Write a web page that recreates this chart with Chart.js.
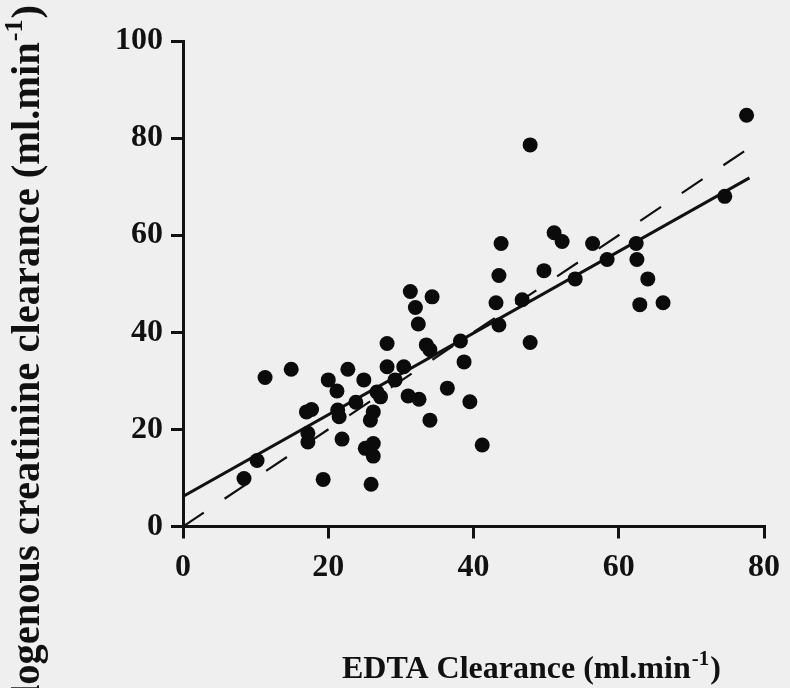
<!DOCTYPE html>
<html>
<head>
<meta charset="utf-8">
<script src="https://cdn.jsdelivr.net/npm/chart.js@4"></script>
<style>
  html, body { margin: 0; padding: 0; background: #efefef; }
  canvas { display: block; }
</style>
</head>
<body>
<canvas id="myChart" width="790" height="688"></canvas>
<script>
// EDTA clearance (x) vs endogenous creatinine clearance (y), ml/min
let edtaClearance = [8.4, 10.2, 11.3, 14.9, 17.0, 17.7, 17.2, 17.2, 19.3, 20.0, 21.2, 22.7, 21.3, 21.5, 21.9,
  23.8, 24.9, 26.2, 25.8, 25.1, 26.2, 26.2, 25.9, 26.7, 27.2, 28.1, 28.1, 29.2, 30.4, 31.0, 32.5, 31.3, 32.0,
  32.4, 34.3, 33.5, 34.0, 34.0, 36.4, 38.2, 38.7, 39.5, 41.2, 43.1, 43.5, 43.5, 43.8, 46.7, 47.8, 47.8, 49.7,
  51.1, 52.2, 54.0, 56.4, 58.4, 62.4, 62.5, 64.0, 62.9, 66.1, 74.6, 77.6];
let creatinineClearance = [9.9, 13.6, 30.7, 32.4, 23.6, 24.1, 19.2, 17.4, 9.7, 30.2, 27.9, 32.4, 24.0, 22.6, 18.0,
  25.6, 30.2, 23.6, 21.9, 16.1, 17.1, 14.5, 8.7, 27.7, 26.7, 37.7, 32.9, 30.2, 32.9, 26.9, 26.2, 48.4, 45.1,
  41.7, 47.3, 37.4, 36.4, 21.9, 28.5, 38.2, 33.9, 25.7, 16.8, 46.1, 41.5, 51.7, 58.3, 46.7, 37.9, 78.6, 52.7,
  60.5, 58.7, 51.0, 58.3, 55.0, 58.3, 55.0, 51.0, 45.7, 46.1, 68.0, 84.7];

// regression line and line of identity (end points)
let fitX = [0, 78];
let fitY = [6.2, 71.8];
let identityX = [0, 80];
let identityY = [0, 80];

let xTicks = [0, 20, 40, 60, 80];
let yTicks = [0, 20, 40, 60, 80, 100];

let xTitle = "EDTA Clearance (ml.min";
let yTitle = "Endogenous creatinine clearance (ml.min";
let sup = "-1";

const ink = "#111";
const serif = "'Liberation Serif', 'DejaVu Serif', serif";

function toPoints(xs, ys) {
  return xs.map((x, i) => ({ x: x, y: ys[i] }));
}

// axis titles with superscript, drawn by hand
const axisTitles = {
  id: "axisTitles",
  afterDraw(chart) {
    const c = chart.ctx;
    c.save();
    c.fillStyle = ink;
    c.textBaseline = "alphabetic";
    c.textAlign = "left";

    function run(mainSize, supSize, text) {
      c.font = "bold " + mainSize + "px " + serif;
      let w1 = c.measureText(text).width;
      c.font = "bold " + supSize + "px " + serif;
      let w2 = c.measureText(sup).width;
      c.font = "bold " + mainSize + "px " + serif;
      let w3 = c.measureText(")").width;
      return { w1, w2, w3, total: w1 + w2 + w3 + 2 };
    }

    function draw(mainSize, supSize, text, m) {
      c.font = "bold " + mainSize + "px " + serif;
      c.fillText(text, 0, 0);
      c.font = "bold " + supSize + "px " + serif;
      c.fillText(sup, m.w1 + 1, -mainSize * 0.42);
      c.font = "bold " + mainSize + "px " + serif;
      c.fillText(")", m.w1 + m.w2 + 2, 0);
    }

    // x title
    let mx = run(32, 21, xTitle);
    c.save();
    c.translate(342, 678);
    draw(32, 21, xTitle, mx);
    c.restore();

    // y title, rotated, ending near the top edge
    let my = run(40.5, 26, yTitle);
    c.save();
    c.translate(39, 5 + my.total);
    c.rotate(-Math.PI / 2);
    draw(40.5, 26, yTitle, my);
    c.restore();

    c.restore();
  }
};

const axisStyle = {
  border: { display: true, color: ink, width: 3 },
  grid: { drawOnChartArea: false, drawTicks: true, tickLength: 12, color: ink, lineWidth: 3 },
};

let ctx = document.getElementById("myChart");
let myChart = new Chart(ctx, {
  type: "scatter",
  data: {
    datasets: [
      {
        label: "patients",
        data: toPoints(edtaClearance, creatinineClearance),
        pointRadius: 7.5,
        pointBackgroundColor: "#0b0b0b",
        pointBorderWidth: 0,
      },
      {
        type: "line",
        label: "regression",
        data: toPoints(fitX, fitY),
        borderColor: ink,
        borderWidth: 3,
        pointRadius: 0,
      },
      {
        type: "line",
        label: "identity",
        data: toPoints(identityX, identityY),
        borderColor: ink,
        borderWidth: 2.2,
        borderDash: [25, 25],
        pointRadius: 0,
      },
    ],
  },
  options: {
    responsive: false,
    animation: false,
    layout: { autoPadding: false, padding: { left: 0, top: 41, right: 17, bottom: 0 } },
    plugins: { legend: { display: false }, tooltip: { enabled: false } },
    scales: {
      x: {
        type: "linear",
        min: 0,
        max: 80,
        afterBuildTicks: (s) => { s.ticks = xTicks.map((v) => ({ value: v })); },
        afterFit: (s) => { s.height = 161.5; },
        ticks: { color: ink, padding: 10, font: { family: serif, size: 32, weight: "bold" } },
        ...axisStyle,
      },
      y: {
        type: "linear",
        min: 0,
        max: 100,
        afterBuildTicks: (s) => { s.ticks = yTicks.map((v) => ({ value: v })); },
        afterFit: (s) => { s.width = 183; },
        ticks: { color: ink, padding: 8, font: { family: serif, size: 32, weight: "bold" } },
        ...axisStyle,
      },
    },
  },
  plugins: [axisTitles],
});
</script>
</body>
</html>
